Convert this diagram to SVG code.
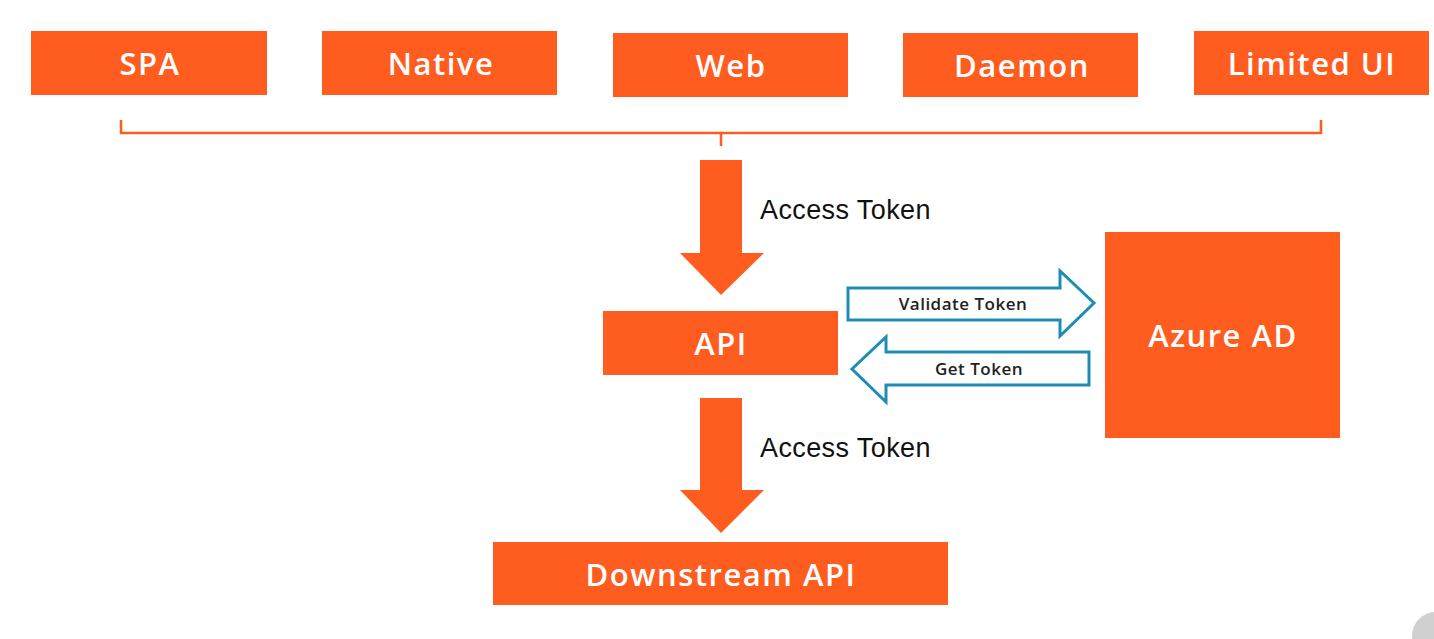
<svg xmlns="http://www.w3.org/2000/svg" width="1434" height="639" viewBox="0 0 1434 639">
<style>
.box{fill:#FF5D1F}
.bt{fill:#fff;font-family:"Open Sans","Noto Sans",sans-serif;font-weight:600;font-size:31px;letter-spacing:1.5px;text-anchor:middle;dominant-baseline:central}
.lbl{fill:#111;font-family:"Liberation Sans",Arial,sans-serif;font-size:27px;letter-spacing:0.4px}
.ba{fill:#fff;stroke:#1E8DB5;stroke-width:3;stroke-linejoin:miter}
.bat{fill:#222;font-family:"Open Sans","Noto Sans",sans-serif;font-weight:600;font-size:17px;letter-spacing:0.5px;text-anchor:middle;dominant-baseline:central}
.br{fill:none;stroke:#FF5D1F;stroke-width:2.5}
</style>
<rect width="1434" height="639" fill="#fff"/>
<g id="spa"><rect class="box" x="31" y="31" width="236" height="64"/><text class="bt" x="150" y="63">SPA</text></g>
<g id="native"><rect class="box" x="322" y="31" width="235" height="64"/><text class="bt" x="441" y="63">Native</text></g>
<g id="web"><rect class="box" x="613" y="33" width="235" height="64"/><text class="bt" x="731" y="65">Web</text></g>
<g id="daemon"><rect class="box" x="903" y="33" width="235" height="64"/><text class="bt" x="1022" y="65">Daemon</text></g>
<g id="limited-ui"><rect class="box" x="1194" y="31" width="235" height="64"/><text class="bt" x="1312" y="63">Limited UI</text></g>
<g id="api"><rect class="box" x="603" y="311" width="235" height="64"/><text class="bt" x="721" y="343">API</text></g>
<g id="azure-ad"><rect class="box" x="1105" y="232" width="235" height="206"/><text class="bt" x="1223" y="335">Azure AD</text></g>
<g id="downstream-api"><rect class="box" x="493" y="542" width="455" height="63"/><text class="bt" x="721" y="574">Downstream API</text></g>
<g id="connectors">
<path class="br" d="M121,120 V133 H1321 V120 M721,133 V146"/>
<polygon class="box" points="700,160 742,160 742,253 764,253 721,295 680,253 700,253"/>
<text class="lbl" x="760" y="219">Access Token</text>
<polygon class="box" points="700,398 742,398 742,490 764,490 721,533 680,490 700,490"/>
<text class="lbl" x="760" y="457">Access Token</text>
<polygon class="ba" points="848,288 1060,288 1060,271 1094,303 1060,336 1060,320 848,320"/>
<text class="bat" x="963" y="303">Validate Token</text>
<polygon class="ba" points="1089,352 886,352 886,337 852,369 886,402 886,385 1089,385"/>
<text class="bat" x="979" y="368">Get Token</text>
</g>
<circle cx="1436" cy="636" r="24" fill="#d0d0d0"/>
</svg>
